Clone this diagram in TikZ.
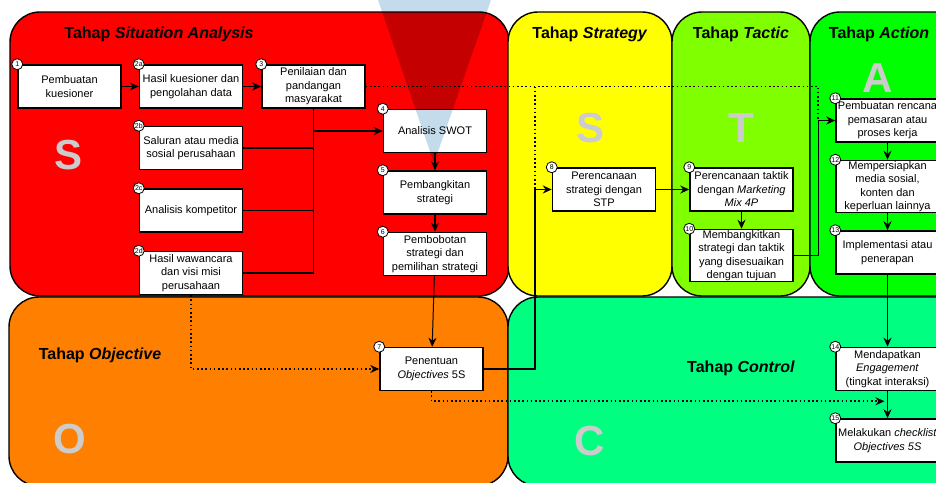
\documentclass[tikz,border=0pt]{standalone}
\usepackage{fontspec}
\setmainfont{Liberation Sans}
\usetikzlibrary{arrows.meta}
\definecolor{merah}{HTML}{FF0000}
\definecolor{kuning}{HTML}{FFFF00}
\definecolor{hijauMuda}{HTML}{80FF00}
\definecolor{hijau}{HTML}{00FF00}
\definecolor{oranye}{HTML}{FF8000}
\definecolor{hijauLaut}{HTML}{00FF80}
\definecolor{abu}{HTML}{CCCCCC}
\definecolor{corong}{HTML}{C4DBEC}
\begin{document}
\begin{tikzpicture}[x=1pt,y=-1pt]

      \tikzstyle{Tahap} = [
      draw=black,
      line width=1.4pt,
      rounded corners=30pt
      ]

      \tikzstyle{Kotak} = [
      rectangle,
      minimum width=103pt,
      minimum height=43pt,
      inner xsep=1pt,
      inner ysep=0pt,
      align=center,
      draw=black,
      line width=1.5pt,
      fill=white,
      font=\fontsize{11}{13.5}\selectfont
      ]

      \tikzstyle{Nomor} = [
      circle,
      draw=black,
      fill=white,
      line width=0.8pt,
      minimum size=11pt,
      inner sep=0pt,
      font=\fontsize{7}{7}\selectfont
      ]

      \tikzstyle{Judul} = [font=\bfseries\fontsize{16}{16}\selectfont]
      \tikzstyle{Huruf} = [text=abu, font=\bfseries\fontsize{42}{42}\selectfont]
      \tikzstyle{Alir} = [-{Stealth[length=9pt,width=8pt]}, line width=1.5pt]
      \tikzstyle{Titik} = [line width=1.6pt, dash pattern=on 1.6pt off 2.6pt]

      \useasboundingbox (0,0) rectangle (936,482);

      % panel tahap
      \draw [Tahap, fill=merah] (10,12) rectangle (509,296);
      \draw [Tahap, fill=kuning] (508,12) rectangle (672,296);
      \draw [Tahap, fill=hijauMuda] (672,12) rectangle (810,296);
      \draw [Tahap, fill=hijau] (810,12) rectangle (965,296);
      \draw [Tahap, fill=oranye] (9,297) rectangle (508,486);
      \draw [Tahap, fill=hijauLaut] (508,297) rectangle (965,486);

      \node (JudulSituation) [Judul] at (159,34) {Tahap \textit{Situation Analysis}};
      \node (JudulStrategy) [Judul] at (590,34) {Tahap \textit{Strategy}};
      \node (JudulTactic) [Judul] at (741,34) {Tahap \textit{Tactic}};
      \node (JudulAction) [Judul] at (879,34) {Tahap \textit{Action}};
      \node (JudulObjective) [Judul] at (100,355) {Tahap \textit{Objective}};
      \node (JudulControl) [Judul] at (741,368) {Tahap \textit{Control}};

      \node (HurufS) [Huruf] at (69,155) {S};
      \node (HurufStrategy) [Huruf] at (590,128) {S};
      \node (HurufT) [Huruf] at (741,128) {T};
      \node (HurufA) [Huruf] at (878,78) {A};
      \node (HurufO) [Huruf] at (70,439) {O};
      \node (HurufC) [Huruf] at (590,441) {C};

      % kotak langkah
      \node (Kuesioner) [Kotak] at (69.5,86.5) {Pembuatan\\kuesioner};
      \node (HasilKuesioner) [Kotak, anchor=west]
      at ([xshift=17pt] Kuesioner.east) {Hasil kuesioner dan\\pengolahan data};
      \node (Penilaian) [Kotak, anchor=west]
      at ([xshift=18pt] HasilKuesioner.east) {Penilaian dan\\pandangan\\masyarakat};
      \node (Saluran) [Kotak, anchor=north]
      at ([yshift=-17pt] HasilKuesioner.south) {Saluran atau media\\sosial perusahaan};
      \node (Kompetitor) [Kotak, anchor=north]
      at ([yshift=-18pt] Saluran.south) {Analisis kompetitor};
      \node (Wawancara) [Kotak, anchor=north]
      at ([yshift=-18pt] Kompetitor.south) {Hasil wawancara\\dan visi misi\\perusahaan};
      \node (SWOT) [Kotak, anchor=north west]
      at ([xshift=17pt] Penilaian.south east) {Analisis SWOT};
      \node (Pembangkitan) [Kotak, anchor=north]
      at ([yshift=-17pt] SWOT.south) {Pembangkitan\\strategi};
      \node (Pembobotan) [Kotak, anchor=north]
      at ([yshift=-17pt] Pembangkitan.south) {Pembobotan\\strategi dan\\pemilihan strategi};
      \node (Penentuan) [Kotak] at (431.5,369) {Penentuan\\\textit{Objectives} 5S};

      \node (STP) [Kotak] at (604,189.5) {Perencanaan\\strategi dengan\\STP};
      \node (Taktik) [Kotak, anchor=west]
      at ([xshift=33pt] STP.east) {Perencanaan taktik\\dengan \textit{Marketing}\\\textit{Mix 4P}};
      \node (Membangkitkan) [Kotak, anchor=north, minimum height=52pt]
      at ([yshift=-17pt] Taktik.south) {Membangkitkan\\strategi dan taktik\\yang disesuaikan\\dengan tujuan};

      \node (Rencana) [Kotak] at (887.5,120.5) {Pembuatan rencana\\pemasaran atau\\proses kerja};
      \node (Persiapan) [Kotak, anchor=north, minimum height=52pt]
      at ([yshift=-17pt] Rencana.south) {Mempersiapkan\\media sosial,\\konten dan\\keperluan lainnya};
      \node (Implementasi) [Kotak, anchor=north]
      at ([yshift=-17pt] Persiapan.south) {Implementasi atau\\penerapan};
      \node (Engagement) [Kotak] at (887.5,369) {Mendapatkan\\\textit{Engagement}\\(tingkat interaksi)};
      \node (Checklist) [Kotak, anchor=north]
      at ([yshift=-27pt] Engagement.south) {Melakukan \textit{checklist}\\\textit{Objectives 5S}};

      % titik bantu
      \coordinate (Simpul) at (Penilaian.south |- SWOT.west);
      \coordinate (TitikS) at ([xshift=-17pt] STP.west);
      \coordinate (TitikA) at ([xshift=-17pt] Rencana.west);
      \coordinate (TitikC) at ([yshift=-10pt] Engagement.south);

      % garis alir
      \draw [Alir] (Kuesioner) -- (HasilKuesioner);
      \draw [Alir] (HasilKuesioner) -- (Penilaian);
      \draw [Alir] (Penilaian.south) |- (SWOT.west);
      \draw [line width=1.5pt] (Saluran.east) -| (Simpul);
      \draw [line width=1.5pt] (Kompetitor.east) -| (Simpul);
      \draw [line width=1.5pt] (Wawancara.east) -| (Simpul);
      \draw [Alir] (SWOT) -- (Pembangkitan);
      \draw [Alir] (Pembangkitan) -- (Pembobotan);
      \draw [Alir, line width=1pt] (Pembobotan) -- (Penentuan);
      \draw [Alir] (Penentuan.east) -| (TitikS) -- (STP.west);
      \draw [Alir] (STP) -- (Taktik);
      \draw [Alir, line width=1pt] (Taktik) -- (Membangkitkan);
      \draw [Alir] (Membangkitkan.east) -| (TitikA) -- (Rencana.west);
      \draw [Alir] (Rencana) -- (Persiapan);
      \draw [Alir] (Persiapan) -- (Implementasi);
      \draw [Alir] (Implementasi) -- (Engagement);
      \draw [Alir] (Engagement) -- (Checklist);

      % garis putus-putus
      \draw [Titik] (Penilaian.east) -| (TitikA);
      \draw [Titik] (TitikS |- Penilaian.east) -- (TitikS);
      \draw [Titik, -{Stealth[length=9pt,width=8pt]}] (Wawancara.south) |- (Penentuan.west);
      \draw [Titik, -{Stealth[length=9pt,width=8pt]}, shorten >=3pt] (Penentuan.south) |- (TitikC);

      % nomor langkah
      \node (No1) [Nomor] at (Kuesioner.north west) {1};
      \node (No2a) [Nomor] at (HasilKuesioner.north west) {2a};
      \node (No2b) [Nomor] at (Saluran.north west) {2b};
      \node (No2c) [Nomor] at (Kompetitor.north west) {2c};
      \node (No2d) [Nomor] at (Wawancara.north west) {2d};
      \node (No3) [Nomor] at (Penilaian.north west) {3};
      \node (No4) [Nomor] at (SWOT.north west) {4};
      \node (No5) [Nomor] at (Pembangkitan.north west) {5};
      \node (No6) [Nomor] at (Pembobotan.north west) {6};
      \node (No7) [Nomor] at (Penentuan.north west) {7};
      \node (No8) [Nomor] at (STP.north west) {8};
      \node (No9) [Nomor] at (Taktik.north west) {9};
      \node (No10) [Nomor] at (Membangkitkan.north west) {10};
      \node (No11) [Nomor] at (Rencana.north west) {11};
      \node (No12) [Nomor] at (Persiapan.north west) {12};
      \node (No13) [Nomor] at (Implementasi.north west) {13};
      \node (No14) [Nomor] at (Engagement.north west) {14};
      \node (No15) [Nomor] at (Checklist.north west) {15};

      % corong biru
      \begin{scope}[blend mode=multiply]
        \fill [corong] (378,0) -- (491,0) -- (434,163) -- cycle;
      \end{scope}

    \end{tikzpicture}
\end{document}
